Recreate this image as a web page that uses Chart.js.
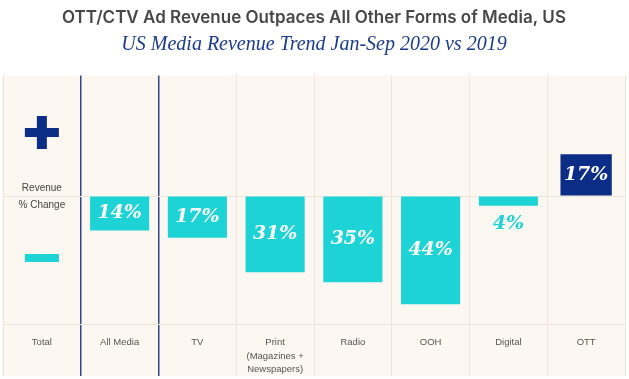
<!DOCTYPE html>
<html>
<head>
<meta charset="utf-8">
<script src="https://cdn.jsdelivr.net/npm/chart.js@4.4.1/dist/chart.umd.min.js"></script>
<style>
  html, body { margin: 0; padding: 0; background: #ffffff; }
  #wrap { position: relative; width: 629px; height: 379px; }
</style>
</head>
<body>
<div id="wrap"><canvas id="mediaChart"></canvas></div>
<script>
// data
const categories = ["Total", "All Media", "TV", ["Print", "(Magazines +", "Newspapers)"], "Radio", "OOH", "Digital", "OTT"];
const declineValues = [null, -14, -17, -31, -35, -44, -4, null];
const growthValues = [null, null, null, null, null, null, null, 17];

const CYAN = "#1ed3d6";
const NAVY = "#0b2d86";
const GRID = "#efe6db";
const BLUE_LINE = "#30498c";

// cream panel behind the chart
const panelBg = {
  id: "panelBg",
  beforeDraw (chart) {
    const { ctx, chartArea } = chart;
    ctx.save();
    ctx.fillStyle = "#fcf7f1";
    ctx.fillRect(chartArea.left - 1, chartArea.top, chartArea.right - chartArea.left + 2, 301);
    ctx.restore();
  }
};

// percent labels on the bars
const barLabels = {
  id: "barLabels",
  afterDatasetsDraw (chart) {
    const { ctx } = chart;
    ctx.save();
    ctx.font = "italic bold 19px 'DejaVu Serif'";
    ctx.textAlign = "center";
    ctx.textBaseline = "middle";
    chart.data.datasets.forEach((ds, di) => {
      chart.getDatasetMeta(di).data.forEach((bar, i) => {
        const v = ds.data[i];
        if (v === null) return;
        const txt = Math.abs(v) + "%";
        const h = Math.abs(bar.base - bar.y);
        if (h < 25) {
          ctx.fillStyle = CYAN;
          ctx.fillText(txt, bar.x, Math.max(bar.y, bar.base) + 18);
        } else {
          ctx.fillStyle = "#ffffff";
          ctx.fillText(txt, bar.x, (bar.y + bar.base) / 2);
        }
      });
    });
    ctx.restore();
  }
};

// plus / minus legend in the "Total" column
const totalKey = {
  id: "totalKey",
  afterDraw (chart) {
    const { ctx } = chart;
    const x = chart.scales.x.getPixelForValue(0);
    const zero = chart.scales.y.getPixelForValue(0);
    ctx.save();
    ctx.fillStyle = NAVY;
    ctx.fillRect(x - 17, zero - 68, 34, 9);
    ctx.fillRect(x - 5, zero - 80, 10, 33);
    ctx.fillStyle = CYAN;
    ctx.fillRect(x - 17, zero + 58, 34, 8);
    ctx.fillStyle = "#444";
    ctx.font = "10px 'Liberation Sans'";
    ctx.textAlign = "center";
    ctx.textBaseline = "middle";
    ctx.fillText("Revenue", x, zero - 8);
    ctx.fillText("% Change", x, zero + 9);
    ctx.restore();
  }
};

const lineColor = (c) => (c.index === 1 || c.index === 2) ? BLUE_LINE : GRID;
const lineWidth = (c) => (c.index === 1 || c.index === 2) ? 1.5 : 1;

new Chart(document.getElementById("mediaChart"), {
  type: "bar",
  data: {
    labels: categories,
    datasets: [
      {
        data: declineValues,
        backgroundColor: CYAN,
        barPercentage: 0.76,
        categoryPercentage: 1
      },
      {
        data: growthValues,
        backgroundColor: NAVY,
        barPercentage: 0.66,
        categoryPercentage: 1
      }
    ]
  },
  options: {
    responsive: true,
    maintainAspectRatio: false,
    devicePixelRatio: 1,
    animation: false,
    layout: { padding: { left: 3, right: 4, top: 0, bottom: 0 } },
    datasets: { bar: { grouped: false } },
    plugins: {
      legend: { display: false },
      tooltip: { enabled: false },
      title: {
        display: true,
        text: "OTT/CTV Ad Revenue Outpaces All Other Forms of Media, US",
        color: "#474747",
        font: { family: "Inter", size: 17, weight: "600" },
        padding: { top: 8, bottom: 0 }
      },
      subtitle: {
        display: true,
        text: "US Media Revenue Trend Jan-Sep 2020 vs 2019",
        color: "#1c3a8c",
        font: { family: "Liberation Serif", size: 20, style: "italic" },
        padding: { top: 4, bottom: 19 }
      }
    },
    scales: {
      x: {
        offset: true,
        grid: {
          offset: true,
          color: lineColor,
          tickColor: lineColor,
          lineWidth: lineWidth,
          drawTicks: true,
          tickLength: 52
        },
        border: { display: true, color: GRID },
        ticks: {
          autoSkip: false,
          maxRotation: 0,
          padding: -40,
          color: "#555",
          font: { family: "Liberation Sans", size: 9.5, lineHeight: 1.4 }
        },
        afterFit (scale) { scale.height = 55; }
      },
      y: {
        min: -52,
        max: 49,
        afterBuildTicks (scale) { scale.ticks = [{ value: 0 }]; },
        afterFit (scale) { scale.width = 0; },
        grid: { color: GRID, drawTicks: false },
        border: { display: false },
        ticks: { display: false }
      }
    }
  },
  plugins: [panelBg, barLabels, totalKey]
});
</script>
</body>
</html>
